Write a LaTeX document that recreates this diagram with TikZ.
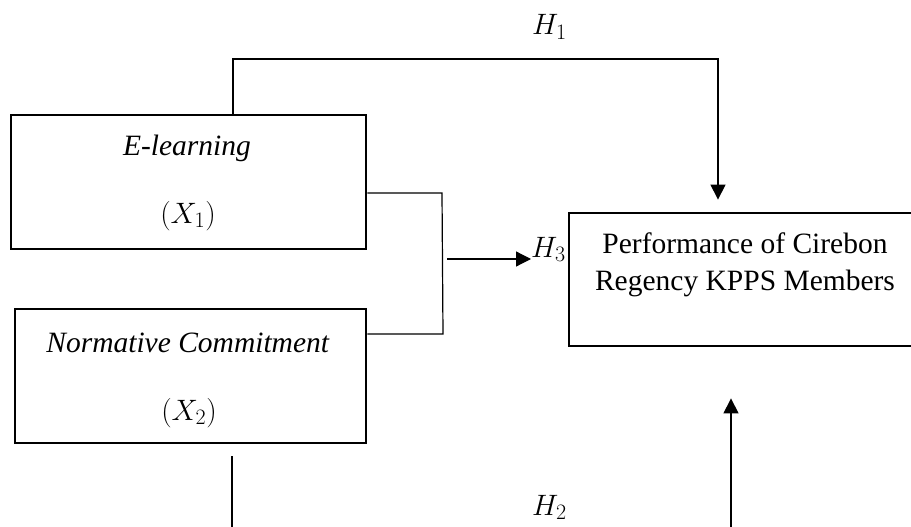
\RequirePackage{fix-cm}
\documentclass[tikz,border=0pt]{standalone}
\usepackage{fontspec}
\setmainfont{Liberation Serif}
\DeclareMathSizes{29.5}{29.5}{22}{17}
\usetikzlibrary{arrows.meta}
\begin{document}
\begin{tikzpicture}[x=1pt,y=-1pt,
  every node/.style={font=\fontsize{29.5}{36}\selectfont},
  varbox/.style={draw,line width=2.8pt,inner sep=0pt},
  conn/.style={line width=1.2pt},
  arr/.style={conn,-{Triangle[width=15pt,length=15pt]}},
  lbl/.style={anchor=base,inner sep=0pt},
  hyp/.style={anchor=base west,inner sep=0pt}]
\useasboundingbox (0,0) rectangle (911,527);
\clip (0,0) rectangle (911,527);
% boxes
\node[varbox,minimum width=355pt,minimum height=134pt] (e1) at (188.5,182) {};
\node[varbox,minimum width=351pt,minimum height=134pt] (e2) at (190.5,376) {};
\node[varbox,minimum width=352pt,minimum height=133pt] (pf) at (745,279.5) {};
% box texts
\node[lbl] (t1a) at (187,155) {\textit{E-learning}};
\node[lbl] (t1b) at (188,223) {$(X_1)$};
\node[lbl] (t2a) at (188,352) {\textit{Normative Commitment}};
\node[lbl] (t2b) at (189,420) {$(X_2)$};
\node[lbl] (t3a) at (745,253) {Performance of Cirebon};
\node[lbl] (t3b) at (745,290) {Regency KPPS Members};
% hypothesis labels
\node[hyp] (h1) at (532,35) {$H_1$};
\node[hyp] (h3) at (531,257) {$H_3$};
\node[hyp] (h2) at (532,515) {$H_2$};
% H1 path
\coordinate (h1a) at (233,59);
\coordinate (h1b) at (718,59);
\draw[arr,shorten >=12pt] (e1.north -| h1a) -- (h1a) -- (h1b) -- (h1b |- pf.north);
% H3 bracket and arrow
\coordinate (bt) at (442,193);
\coordinate (bb) at (443,334);
\draw[conn] (e1.east |- bt) -- (bt) -- (bb) -- (e2.east |- bb);
\coordinate (h3s) at (447,259);
\draw[arr] (h3s) -- (h3s -| h3.west);
% H2 path
\coordinate (h2a) at (232,527);
\coordinate (h2b) at (731,527);
\draw[conn,shorten <=12pt] (e2.south -| h2a) -- (h2a);
\draw[arr,shorten >=51pt] (h2b) -- (h2b |- pf.south);
\end{tikzpicture}
\end{document}
